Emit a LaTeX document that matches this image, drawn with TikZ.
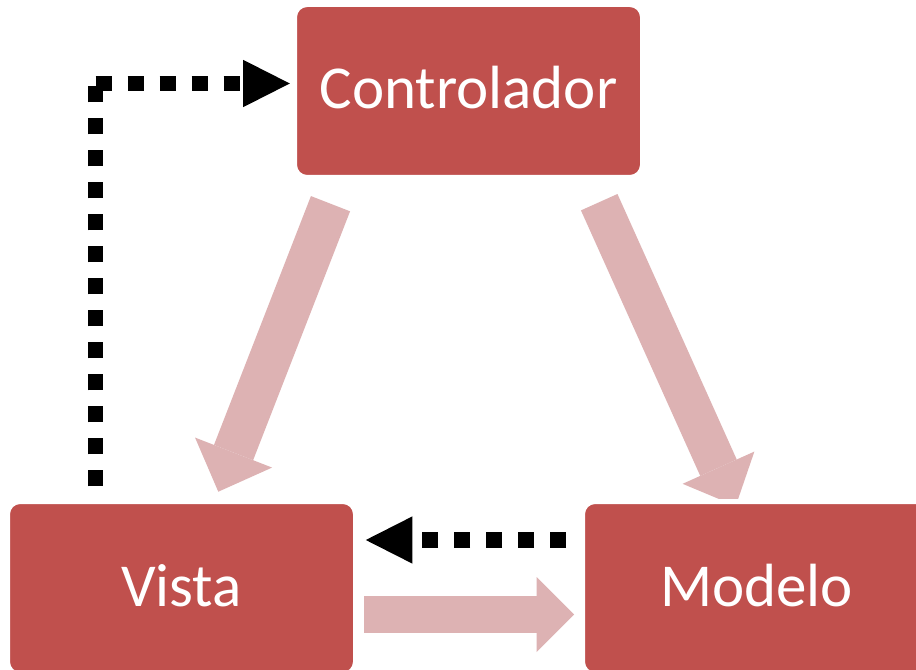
\documentclass[tikz,border=0pt]{standalone}
\usepackage{fontspec}
\setmainfont{Carlito}
\usetikzlibrary{arrows.meta}
\definecolor{boxred}{RGB}{192,80,77}
\definecolor{pinkarrow}{RGB}{221,178,179}
\begin{document}
\begin{tikzpicture}[x=0.75pt,y=-0.75pt,
  mvcbox/.style={rectangle, rounded corners=9.4pt, fill=boxred, draw=white,
    line width=3.75pt, minimum width=261pt, minimum height=129.75pt,
    inner sep=0pt, text=white, font=\fontsize{45.75pt}{50pt}\selectfont,
    text height=27pt, text depth=0pt},
  bigarrow/.style args={#1/#2/#3}{color=pinkarrow, line cap=butt, line width=#1,
    -{Triangle[length=#2 0 1, width=#3 0 1, line width=0pt]}},
  dotline/.style={draw=black, line width=11.8pt, line cap=butt,
    dash pattern=on 12pt off 12pt},
  dothead/.style={-{Triangle[length=35pt 0 1, width=35.5pt 0 1, line width=0pt]}}
]
\useasboundingbox (0,0) rectangle (916,670);
\fill[white] (0,0) rectangle (916,670);

% thick pink arrows (behind the boxes)
\coordinate (a1s) at (330.5,203.7);
\coordinate (a1e) at (218.3,491.7);
\coordinate (a2s) at (599.2,202.2);
\coordinate (a2e) at (735.7,506);
\coordinate (a3s) at (364,614.5);
\coordinate (a3e) at (574,614.5);
\draw[bigarrow=31.5pt/31.5pt/62pt] (a1s) -- (a1e);
\draw[bigarrow=30pt/31.5pt/59pt] (a2s) -- (a2e);
\draw[bigarrow=28.2pt/28pt/56.25pt] (a3s) -- (a3e);

% boxes
\node[mvcbox] (ctrl) at (468.5,91) {Controlador};
\node[mvcbox] (vista) at (181.5,588) {Vista};
\node[mvcbox] (modelo) at (756.5,588) {Modelo};

% dotted connectors
\coordinate (d1c) at (95.5,83.5);
\coordinate (d2m) at (470,540);
\draw[dotline, shorten <=9.4pt] (vista.north -| d1c) -- (d1c);
\draw[dotline, dothead, shorten >=1.65pt] (d1c) -- (d1c -| ctrl.west);
\draw[dotline, dothead, shorten <=10.35pt, shorten >=5.85pt]
  (modelo.west |- d2m) -- (vista.east |- d2m);
\end{tikzpicture}
\end{document}
